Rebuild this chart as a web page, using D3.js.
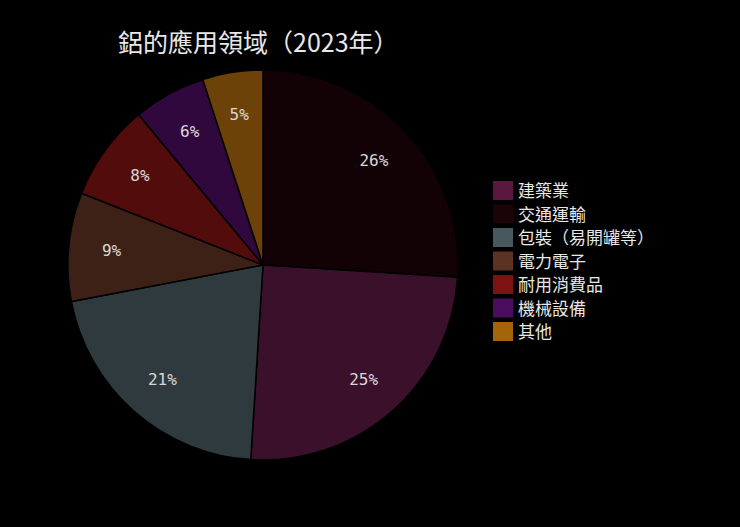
<!DOCTYPE html>
<html><head><meta charset="utf-8">
<script src="https://cdn.jsdelivr.net/npm/d3@7"></script>
<style>body{margin:0;background:#000}</style>
</head><body><svg id="chart"></svg>
<script>
// legend order
const categories = ["建築業", "交通運輸", "包裝（易開罐等）", "電力電子", "耐用消費品", "機械設備", "其他"];
const values = [25, 26, 21, 9, 8, 6, 5];
const colors = ["#5a1840", "#1c0308", "#48585e", "#5c3222", "#7c1212", "#4a0c5c", "#a4640c"];
// clockwise order from 12 o'clock, as drawn
const pieOrder = ["交通運輸", "建築業", "包裝（易開罐等）", "電力電子", "耐用消費品", "機械設備", "其他"];

const width = 740, height = 527;
const svg = d3.select("#chart").attr("width", width).attr("height", height);
svg.append("rect").attr("width", width).attr("height", height).attr("fill", "#000");

svg.append("text").attr("x", 118).attr("y", 52)
    .attr("fill", "#e8e8e8").attr("font-size", 25)
    .attr("font-family", "'Noto Sans CJK TC', sans-serif")
    .text("鋁的應用領域（2023年）");

const color = d3.scaleOrdinal().domain(categories).range(colors);
const data = pieOrder.map(c => ({ name: c, value: values[categories.indexOf(c)] }));

const r = 195;
const g = svg.append("g").attr("transform", "translate(263,265)");
const pie = d3.pie().sort(null).value(d => d.value);
const arc = d3.arc().innerRadius(0).outerRadius(r);
const labelArc = d3.arc().innerRadius(r * 0.78).outerRadius(r * 0.78);

g.selectAll("path").data(pie(data)).join("path")
    .attr("d", arc)
    .attr("fill", d => color(d.data.name))
    .attr("fill-opacity", 0.66)
    .attr("stroke", "#000").attr("stroke-width", 1.5);

g.selectAll("text").data(pie(data)).join("text")
    .attr("transform", d => `translate(${labelArc.centroid(d)})`)
    .attr("text-anchor", "middle").attr("dy", "0.35em")
    .attr("fill", "#d8d8d8").attr("font-size", 16)
    .attr("font-family", "'DejaVu Sans Mono', monospace")
    .text(d => d.data.value + "%");

const legend = svg.append("g").attr("transform", "translate(493,181)");
const items = legend.selectAll("g").data(categories).join("g")
    .attr("transform", (d, i) => `translate(0,${i * 23.5})`);
items.append("rect").attr("width", 20).attr("height", 19).attr("fill", d => color(d));
items.append("text").attr("x", 25).attr("y", 16)
    .attr("fill", "#e8e8e8").attr("font-size", 17)
    .attr("font-family", "'Noto Sans CJK TC', sans-serif")
    .text(d => d);
</script>
</body></html>
